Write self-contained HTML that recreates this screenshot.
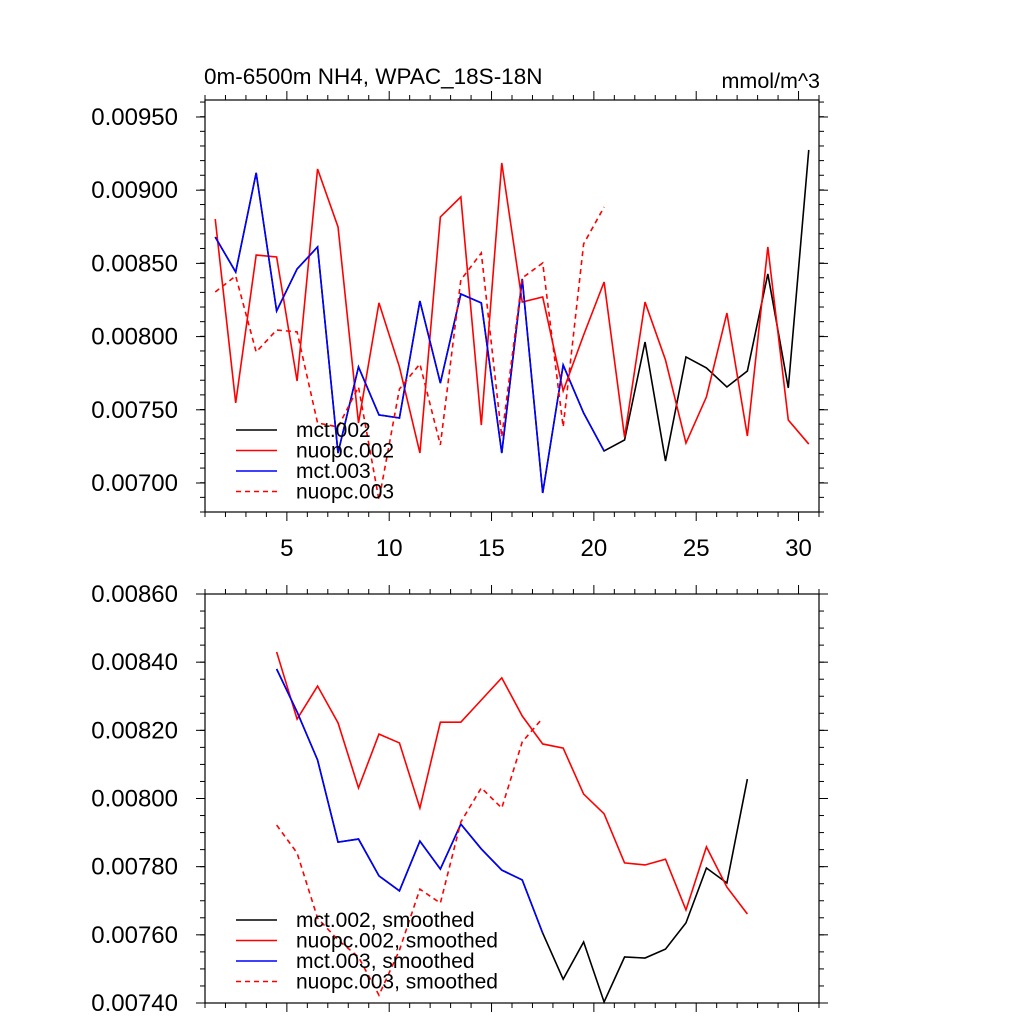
<!DOCTYPE html>
<html><head><meta charset="utf-8"><style>
html,body{margin:0;padding:0;background:#fff;}
svg{display:block;font-family:"Liberation Sans",sans-serif;}
</style></head><body>
<svg id="c" width="1024" height="1024" viewBox="0 0 1024 1024">
<text x="204" y="84" font-size="22.5">0m-6500m NH4, WPAC_18S-18N</text>
<text x="820" y="88" font-size="21.5" text-anchor="end">mmol/m^3</text>
</svg>
<script>
// Top panel data (x = 1.5 .. 30.5)
const topMct002 = [0.008680,0.008441,0.009118,0.008175,0.008462,0.008612,0.007205,0.007793,0.007465,0.007444,0.008243,0.007683,0.008291,0.008230,0.007205,0.008394,0.006932,0.007806,0.007478,0.007219,0.007294,0.007963,0.007150,0.007861,0.007786,0.007656,0.007765,0.008428,0.007649,0.009275];
const topNuopc002 = [0.008803,0.007547,0.008557,0.008544,0.007697,0.009145,0.008749,0.007410,0.008230,0.007793,0.007205,0.008817,0.008954,0.007396,0.009186,0.008236,0.008271,0.007629,0.008011,0.008373,0.007314,0.008236,0.007840,0.007273,0.007588,0.008161,0.007321,0.008612,0.007430,0.007266];
const topMct003 = [0.008680,0.008441,0.009118,0.008175,0.008462,0.008612,0.007205,0.007793,0.007465,0.007444,0.008243,0.007683,0.008291,0.008230,0.007205,0.008394,0.006932,0.007806,0.007478,0.007219];
const topNuopc003 = [0.008305,0.008414,0.007895,0.008045,0.008032,0.007410,0.007383,0.007656,0.006884,0.007642,0.007813,0.007260,0.008387,0.008571,0.007314,0.008400,0.008503,0.007383,0.008633,0.008885];
// Bottom panel data (smoothed, x = 4.5 ..)
const botMct002 = [0.008380,0.008254,0.008113,0.007872,0.007881,0.007773,0.007729,0.007875,0.007793,0.007925,0.007852,0.007790,0.007761,0.007605,0.007470,0.007579,0.007403,0.007535,0.007532,0.007558,0.007635,0.007796,0.007752,0.008057];
const botNuopc002 = [0.008430,0.008233,0.008330,0.008222,0.008031,0.008189,0.008163,0.007972,0.008224,0.008224,0.008289,0.008354,0.008242,0.008160,0.008148,0.008013,0.007955,0.007811,0.007805,0.007822,0.007673,0.007858,0.007740,0.007661];
const botMct003 = [0.008380,0.008254,0.008113,0.007872,0.007881,0.007773,0.007729,0.007875,0.007793,0.007925,0.007852,0.007790,0.007761,0.007605];
const botNuopc003 = [0.007922,0.007840,0.007649,0.007585,0.007535,0.007423,0.007555,0.007734,0.007693,0.007931,0.008031,0.007972,0.008166,0.008236];
const xTickLabels = [5,10,15,20,25,30];
const topYTicks = [0.0095,0.0090,0.0085,0.0080,0.0075,0.0070];
const botYTicks = [0.0086,0.0084,0.0082,0.0080,0.0078,0.0076,0.0074];
const topLegend = ["mct.002","nuopc.002","mct.003","nuopc.003"];
const botLegend = ["mct.002, smoothed","nuopc.002, smoothed","mct.003, smoothed","nuopc.003, smoothed"];

const NS="http://www.w3.org/2000/svg";
const svg=document.getElementById('c');
function mk(tag,attrs,parent){const e=document.createElementNS(NS,tag);for(const k in attrs)e.setAttribute(k,attrs[k]);(parent||svg).appendChild(e);return e;}
const L=205,R=819;
const sx=x=>L+(x-1)*(R-L)/30;
const colors=["#000","#f00","#00f","#f00"];
const dashes=["","","","5,4"];

function panel(top,bot,ymin,ymax,yTicks,minorStep,series,start,legend,legY,name,showXLabels){
  const sy=v=>bot-(v-ymin)/(ymax-ymin)*(bot-top);
  const g=mk('g',{});
  
  
  for(let v=ymin;v<=ymax+1e-9;v+=minorStep){
    const y=sy(v);
    mk('line',{x1:L-5,x2:L,y1:y,y2:y,stroke:'#000','stroke-width':1},g);
    mk('line',{x1:R,x2:R+5,y1:y,y2:y,stroke:'#000','stroke-width':1},g);
  }
  yTicks.forEach(v=>{
    const y=sy(v);
    mk('line',{x1:L-9,x2:L,y1:y,y2:y,stroke:'#000','stroke-width':1},g);
    mk('line',{x1:R,x2:R+9,y1:y,y2:y,stroke:'#000','stroke-width':1},g);
    const t=mk('text',{x:178,y:y+8,'font-size':24,'text-anchor':'end'},g);
    t.textContent=v.toFixed(5);
    
    
  });
  for(let x=1;x<=31;x++){
    const X=sx(x);const major=(x%5===0);const len=major?9:5;
    mk('line',{x1:X,x2:X,y1:bot,y2:bot+len,stroke:'#000','stroke-width':1},g);
    mk('line',{x1:X,x2:X,y1:top-len,y2:top,stroke:'#000','stroke-width':1},g);
  }
  if(showXLabels){
    xTickLabels.forEach(x=>{
      const t=mk('text',{x:sx(x),y:bot+44,'font-size':24,'text-anchor':'middle'},g);
      t.textContent=x;
      
      
    });
  }
  mk('rect',{x:L,y:top,width:R-L,height:bot-top,fill:'none',stroke:'#000','stroke-width':1.2},g);
  series.forEach((s,i)=>{
    const pts=s.map((v,j)=>sx(start+j)+','+sy(v)).join(' ');
    const p=mk('polyline',{points:pts,fill:'none',stroke:colors[i],'stroke-width':1.6,'stroke-dasharray':dashes[i]},g);
    
    
  });
  legend.forEach((lab,i)=>{
    const y=legY+i*20.5;
    const ln=mk('line',{x1:236,x2:277,y1:y,y2:y,stroke:colors[i],'stroke-width':1.6,'stroke-dasharray':dashes[i]},g);
    
    
    const t=mk('text',{x:296,y:y+7,'font-size':21},g);
    t.textContent=lab;
    
    
  });
}
panel(100,512,0.006802,0.009616,topYTicks,0.0001,[topMct002,topNuopc002,topMct003,topNuopc003],1.5,topLegend,430,'top-panel',true);
panel(594,1003,0.0074,0.0086,botYTicks,0.00005,[botMct002,botNuopc002,botMct003,botNuopc003],4.5,botLegend,920,'bottom-panel',false);
</script>
</body></html>
